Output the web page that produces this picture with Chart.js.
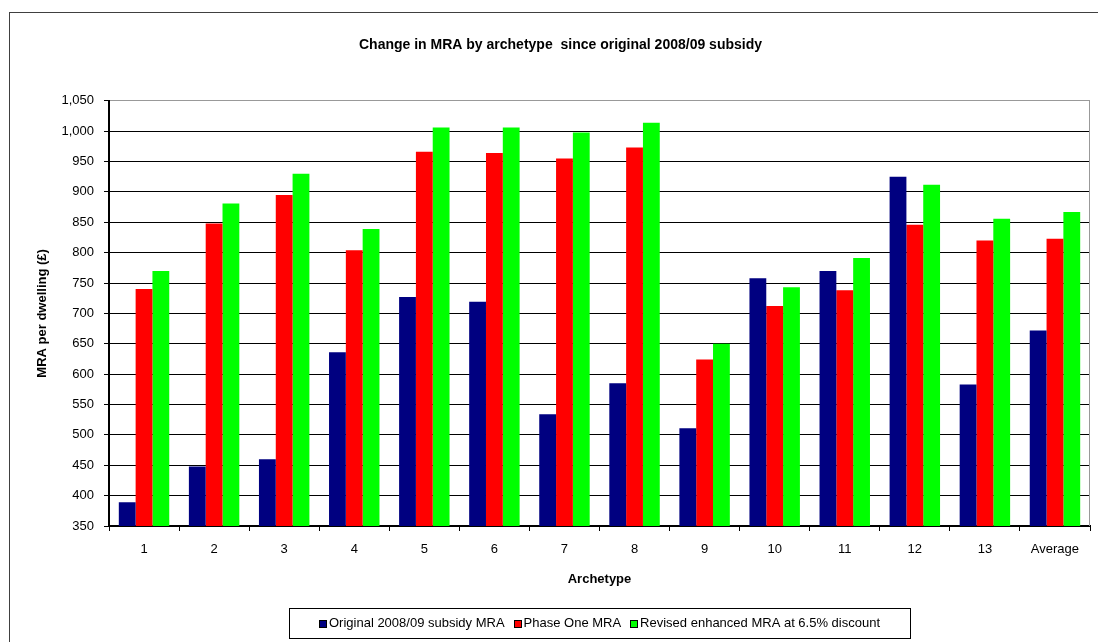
<!DOCTYPE html>
<html>
<head>
<meta charset="utf-8">
<script src="https://cdn.jsdelivr.net/npm/chart.js@4.4.1/dist/chart.umd.min.js"></script>
<style>
  html, body { margin: 0; padding: 0; background: #fff; }
  #wrap { width: 1098px; height: 642px; }
</style>
</head>
<body>
<div id="wrap"><canvas id="mraChart" width="1098" height="642"></canvas></div>
<script>
// archetypes along the x axis
const archetypes = ['1', '2', '3', '4', '5', '6', '7', '8', '9', '10', '11', '12', '13', 'Average'];

// MRA per dwelling (£) for each archetype
const originalMra = [389, 448, 460, 636, 727, 719, 534, 585, 511, 758, 770, 925, 583, 672];
const phaseOneMra = [740, 848, 895, 804, 966, 964, 955, 973, 624, 712, 738, 846, 820, 823];
const revisedMra  = [770, 881, 930, 839, 1006, 1006, 998, 1014, 650, 743, 791, 912, 856, 867];

const seriesNames = ['Original 2008/09 subsidy MRA', 'Phase One MRA', 'Revised enhanced MRA at 6.5% discount'];
const seriesColours = ['#000080', '#ff0000', '#00ff00'];

// y axis range
const yMin = 350;
const yMax = 1050;
const yStep = 50;

const FONT = "'Liberation Sans', Arial, sans-serif";

// frame round the whole chart, grey border on the plot's right side
const framePlugin = {
    id: 'frame',
    beforeDraw(chart) {
        const c = chart.ctx;
        c.save();
        c.fillStyle = '#fff';
        c.fillRect(0, 0, chart.width, chart.height);
        c.strokeStyle = '#404040';
        c.lineWidth = 1;
        c.strokeRect(9.5, 12.5, chart.width + 20, chart.height + 20);
        c.restore();
    },
    beforeDatasetsDraw(chart) {
        const a = chart.chartArea;
        const c = chart.ctx;
        c.save();
        c.strokeStyle = '#999';
        c.lineWidth = 1;
        c.beginPath();
        c.moveTo(Math.round(a.right) - 0.5, a.top);
        c.lineTo(Math.round(a.right) - 0.5, a.bottom);
        c.stroke();
        c.restore();
    }
};

// boxed legend under the axis title
const boxLegendPlugin = {
    id: 'boxLegend',
    afterDraw(chart) {
        const c = chart.ctx;
        const box = { left: 289, top: 608, width: 621, height: 30 };
        const marker = 8, markerGap = 2, itemGap = 9;
        c.save();
        c.font = '13px ' + FONT;
        c.textBaseline = 'middle';
        const items = chart.data.datasets.map(ds => ({
            text: ds.label, colour: ds.backgroundColor, w: c.measureText(ds.label).width
        }));
        const total = items.reduce((s, it) => s + marker + markerGap + it.w, 0) + itemGap * (items.length - 1);
        c.strokeStyle = '#000';
        c.lineWidth = 1;
        c.strokeRect(box.left + 0.5, box.top + 0.5, box.width, box.height);
        let x = box.left + (box.width - total) / 2;
        const cy = box.top + box.height / 2 + 0.5;
        items.forEach(it => {
            c.fillStyle = it.colour;
            c.fillRect(Math.round(x), Math.round(cy - marker / 2), marker, marker);
            c.strokeStyle = '#000';
            c.strokeRect(Math.round(x) + 0.5, Math.round(cy - marker / 2) + 0.5, marker - 1, marker - 1);
            x += marker + markerGap;
            c.fillStyle = '#000';
            c.fillText(it.text, x, cy);
            x += it.w + itemGap;
        });
        c.restore();
    }
};

new Chart(document.getElementById('mraChart'), {
    type: 'bar',
    data: {
        labels: archetypes,
        datasets: [originalMra, phaseOneMra, revisedMra].map((values, i) => ({
            label: seriesNames[i],
            data: values,
            backgroundColor: seriesColours[i],
            borderWidth: 0,
            categoryPercentage: 0.72,
            barPercentage: 1.0
        }))
    },
    options: {
        responsive: false,
        animation: false,
        devicePixelRatio: 1,
        layout: { padding: { left: 31, right: 8, top: 0, bottom: 52 } },
        plugins: {
            legend: { display: false },
            tooltip: { enabled: false },
            title: {
                display: true,
                text: 'Change in MRA by archetype  since original 2008/09 subsidy',
                color: '#000',
                font: { family: FONT, size: 14, weight: 'bold' },
                padding: { top: 37, bottom: 47 }
            }
        },
        scales: {
            x: {
                offset: true,
                grid: { drawOnChartArea: false, offset: true, tickLength: 5, color: '#000' },
                border: { color: '#000', width: 2 },
                ticks: { color: '#000', font: { family: FONT, size: 13 }, padding: 11 },
                title: {
                    display: true,
                    text: 'Archetype',
                    color: '#000',
                    font: { family: FONT, size: 13, weight: 'bold' },
                    padding: { top: 6, bottom: 3 }
                },
                afterFit(scale) { scale.height = 64; }
            },
            y: {
                min: yMin,
                max: yMax,
                grid: {
                    color: ctx => (ctx.tick && ctx.tick.value === yMax) ? '#999' : '#000',
                    tickColor: '#000',
                    tickLength: 5,
                    lineWidth: 1
                },
                border: { color: '#000', width: 2 },
                ticks: {
                    stepSize: yStep,
                    color: '#000',
                    font: { family: FONT, size: 13 },
                    padding: 10,
                    callback: v => v.toLocaleString('en-US')
                },
                title: {
                    display: true,
                    text: 'MRA per dwelling (£)',
                    color: '#000',
                    font: { family: FONT, size: 13, weight: 'bold' },
                    padding: { top: 4, bottom: 4 }
                },
                afterFit(scale) { scale.width = 78; }
            }
        }
    },
    plugins: [framePlugin, boxLegendPlugin]
});
</script>
</body>
</html>
